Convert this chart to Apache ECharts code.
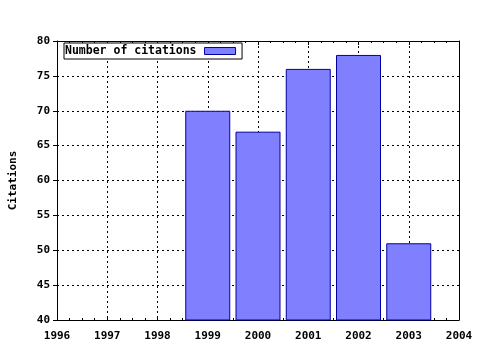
<!DOCTYPE html>
<html>
<head>
<meta charset="utf-8">
<script src="https://cdn.jsdelivr.net/npm/echarts@6/dist/echarts.min.js"></script>
<style>html,body{margin:0;padding:0;background:#fff}#c{width:480px;height:350px}</style>
</head>
<body>
<div id="c"></div>
<script>
const years = [1999, 2000, 2001, 2002, 2003];
const citations = [70, 67, 76, 78, 51];
const seriesName = 'Number of citations';
const yAxisName = 'Citations';

const font = 'DejaVu Sans Mono';
const chart = echarts.init(document.getElementById('c'));
const dotted = { color: '#000', width: 1, type: [2, 3] };
chart.setOption({
  animation: false,
  backgroundColor: '#fff',
  grid: { left: 57, right: 21, top: 41, bottom: 30, containLabel: false },
  legend: {
    left: 64, top: 43,
    data: [seriesName],
    align: 'right',
    backgroundColor: '#fff',
    borderColor: '#000', borderWidth: 1, borderRadius: 0,
    padding: [2, 6, 2, 1],
    itemWidth: 31, itemHeight: 7,
    icon: 'rect',
    itemStyle: { color: '#8080ff', borderColor: '#0000a0', borderWidth: 1 },
    textStyle: { fontFamily: font, fontWeight: 'bold', fontSize: 11.5, color: '#000', padding: [0, 3, 0, 0] }
  },
  xAxis: [{
    type: 'value', min: 1996, max: 2004, interval: 1,
    axisLine: { lineStyle: { color: '#000', width: 1 } },
    axisTick: { inside: true, length: 4, lineStyle: { color: '#000' } },
    minorTick: { show: true, splitNumber: 4, length: 2, lineStyle: { color: '#000' } },
    axisLabel: { fontFamily: font, fontWeight: 'bold', fontSize: 11, color: '#000', margin: 11, formatter: v => String(v) },
    splitLine: { show: true, lineStyle: dotted }
  }, {
    type: 'value', min: 1996, max: 2004, interval: 1, position: 'top',
    axisLine: { show: true, lineStyle: { color: '#000', width: 1 } },
    axisTick: { show: true, inside: true, length: 4, lineStyle: { color: '#000' } },
    minorTick: { show: true, splitNumber: 4, length: 2, lineStyle: { color: '#000' } },
    axisLabel: { show: false },
    splitLine: { show: false }
  }],
  yAxis: [{
    type: 'value', min: 40, max: 80, interval: 5,
    name: yAxisName, nameLocation: 'middle', nameGap: 38,
    nameTextStyle: { fontFamily: font, fontWeight: 'bold', fontSize: 11, color: '#000' },
    axisLine: { show: true, lineStyle: { color: '#000', width: 1 } },
    axisTick: { show: true, length: 4, lineStyle: { color: '#000' } },
    axisLabel: { fontFamily: font, fontWeight: 'bold', fontSize: 11, color: '#000', margin: 7 },
    splitLine: { show: true, lineStyle: dotted }
  }, {
    type: 'value', min: 40, max: 80, interval: 5, position: 'right',
    axisLine: { show: true, lineStyle: { color: '#000', width: 1 } },
    axisTick: { show: false },
    axisLabel: { show: false },
    splitLine: { show: false }
  }],
  series: [{
    name: seriesName,
    type: 'bar',
    barWidth: 45,
    data: years.map((y, i) => [y, citations[i]]),
    itemStyle: { color: '#8080ff', borderColor: '#0000a0', borderWidth: 1 }
  }]
});
</script>
</body>
</html>
